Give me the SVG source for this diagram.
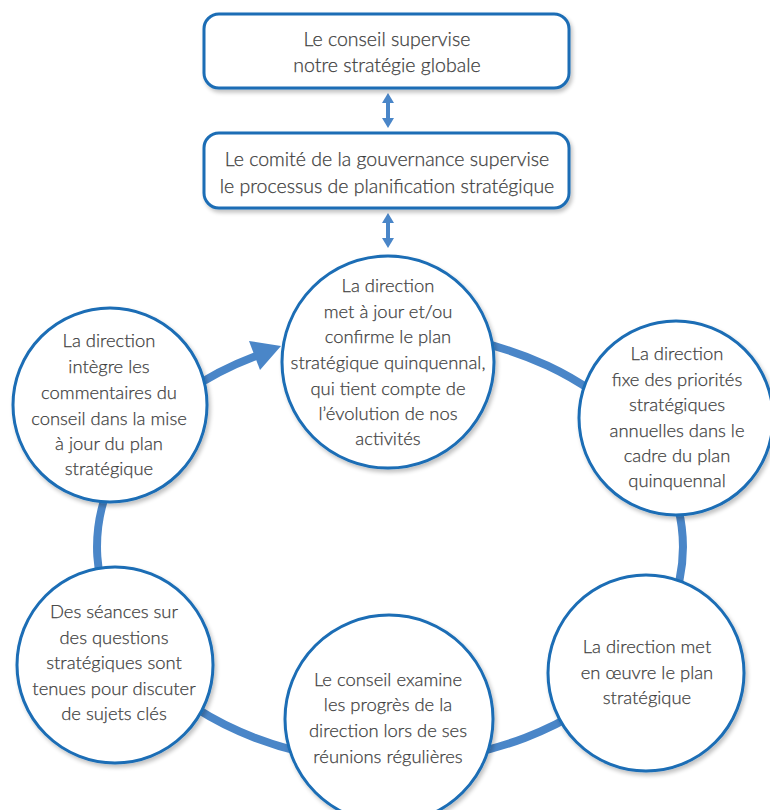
<svg xmlns="http://www.w3.org/2000/svg" width="770" height="810" viewBox="0 0 770 810">
<style>
.box{fill:#fff;stroke:#1a6db5;stroke-width:3}
.node{fill:#fff;stroke:#1a6db5;stroke-width:3}
.t{font-family:Lato,"Open Sans","Liberation Sans",sans-serif;font-size:18.4px;font-weight:300;fill:#3e3e3e;stroke:#3e3e3e;stroke-width:0.25;text-anchor:middle}
.tb{font-size:19.5px}
.ring{fill:none;stroke:#4a86c8;stroke-width:8}
.dbl{stroke:#4a86c8;stroke-width:4}
.head{fill:#4a86c8}
</style>
<defs>
<filter id="sh" x="-10%" y="-10%" width="130%" height="130%">
<feGaussianBlur in="SourceAlpha" stdDeviation="2"/>
<feOffset dx="2" dy="3"/>
<feComponentTransfer><feFuncA type="linear" slope="0.25"/></feComponentTransfer>
<feMerge><feMergeNode/><feMergeNode in="SourceGraphic"/></feMerge>
</filter>
</defs>
<rect width="770" height="810" fill="#fff"/>
<g id="connectors">
<line class="dbl" x1="388" y1="101" x2="388" y2="120"/>
<polygon class="head" points="388,93 394,103 382,103"/>
<polygon class="head" points="388,128 394,118 382,118"/>
<line class="dbl" x1="388" y1="221" x2="388" y2="240"/>
<polygon class="head" points="388,213 394,223 382,223"/>
<polygon class="head" points="388,248 394,238 382,238"/>
<path class="ring" d="M440.9,335.3 A293,215 0 0 1 630.0,423.7"/>
<path class="ring" d="M630.0,423.7 A293,215 0 0 1 630.0,670.3"/>
<path class="ring" d="M630.0,670.3 A293,215 0 0 1 390,762"/>
<path class="ring" d="M390,762 A293,215 0 0 1 150.0,670.3"/>
<path class="ring" d="M150.0,670.3 A293,215 0 0 1 136.3,439.5"/>
<path class="ring" d="M136.3,439.5 A293,215 0 0 1 256,356"/>
<polygon class="head" points="281,346 249,341 260,370"/>
</g>
<g id="box-conseil">
<rect class="box" x="204" y="14" width="365" height="74" rx="15" filter="url(#sh)"/>
<text class="t tb" x="387" y="46">Le conseil supervise</text>
<text class="t tb" x="387" y="72">notre stratégie globale</text>
</g>
<g id="box-comite">
<rect class="box" x="204" y="133" width="365" height="75" rx="15" filter="url(#sh)"/>
<text class="t tb" x="387" y="166">Le comité de la gouvernance supervise</text>
<text class="t tb" x="387" y="193">le processus de planification stratégique</text>
</g>
<g id="node-maj">
<circle class="node" cx="388" cy="362" r="106" filter="url(#sh)"/>
<text class="t" x="388" y="292">La direction</text>
<text class="t" x="388" y="318">met à jour et/ou</text>
<text class="t" x="388" y="343">confirme le plan</text>
<text class="t" x="388" y="369">stratégique quinquennal,</text>
<text class="t" x="388" y="395">qui tient compte de</text>
<text class="t" x="388" y="420">l’évolution de nos</text>
<text class="t" x="388" y="445">activités</text>
</g>
<g id="node-priorites">
<circle class="node" cx="676" cy="418" r="97" filter="url(#sh)"/>
<text class="t" x="677" y="360">La direction</text>
<text class="t" x="677" y="386">fixe des priorités</text>
<text class="t" x="677" y="411">stratégiques</text>
<text class="t" x="677" y="437">annuelles dans le</text>
<text class="t" x="677" y="462">cadre du plan</text>
<text class="t" x="677" y="487">quinquennal</text>
</g>
<g id="node-oeuvre">
<circle class="node" cx="646" cy="673" r="98" filter="url(#sh)"/>
<text class="t" x="647" y="653">La direction met</text>
<text class="t" x="647" y="679">en œuvre le plan</text>
<text class="t" x="647" y="704">stratégique</text>
</g>
<g id="node-examine">
<circle class="node" cx="389" cy="719" r="104" filter="url(#sh)"/>
<text class="t" x="388" y="686">Le conseil examine</text>
<text class="t" x="388" y="711">les progrès de la</text>
<text class="t" x="388" y="737">direction lors de ses</text>
<text class="t" x="388" y="763">réunions régulières</text>
</g>
<g id="node-seances">
<circle class="node" cx="115" cy="665" r="98" filter="url(#sh)"/>
<text class="t" x="114" y="618">Des séances sur</text>
<text class="t" x="114" y="644">des questions</text>
<text class="t" x="114" y="669">stratégiques sont</text>
<text class="t" x="114" y="695">tenues pour discuter</text>
<text class="t" x="114" y="720">de sujets clés</text>
</g>
<g id="node-integre">
<circle class="node" cx="110" cy="405" r="97" filter="url(#sh)"/>
<text class="t" x="109" y="347">La direction</text>
<text class="t" x="109" y="373">intègre les</text>
<text class="t" x="109" y="399">commentaires du</text>
<text class="t" x="109" y="425">conseil dans la mise</text>
<text class="t" x="109" y="450">à jour du plan</text>
<text class="t" x="109" y="475">stratégique</text>
</g>
</svg>
